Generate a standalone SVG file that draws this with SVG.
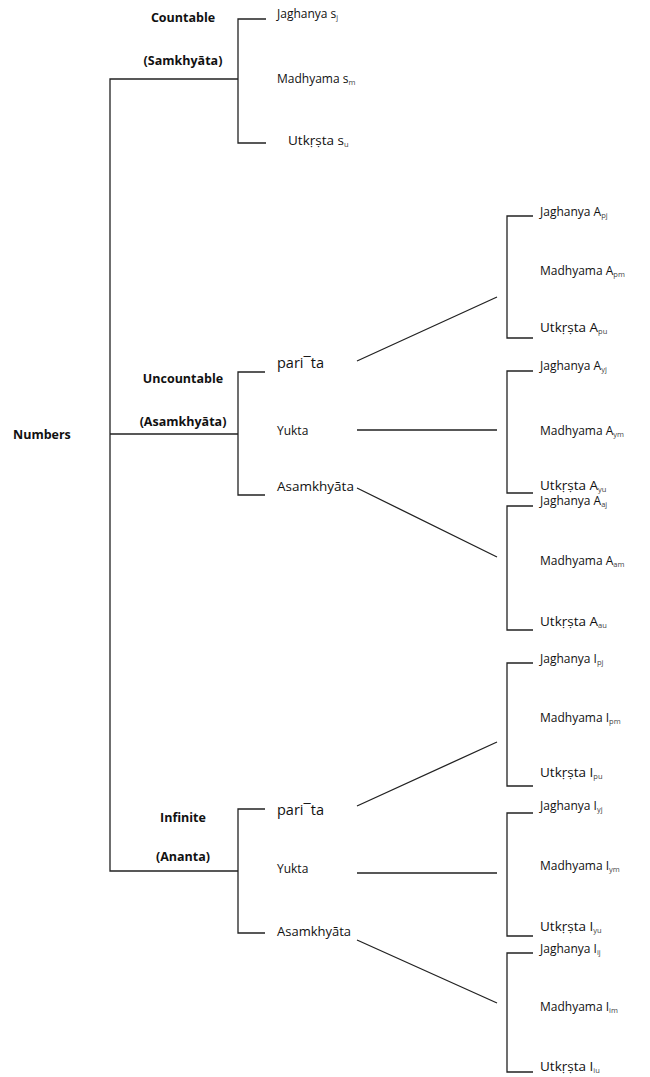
<svg xmlns="http://www.w3.org/2000/svg" width="650" height="1077" viewBox="0 0 650 1077">
<style>
text{font-family:"Open Sans","Liberation Sans",sans-serif;fill:#111;}
.cat{font-size:12.5px;font-weight:bold;text-anchor:middle;}
.mid{font-size:14.5px;}
.leaf{font-size:12px;}
.ut{font-size:13.5px;}
.sub{font-size:7.5px;fill:#444;}
.ln{stroke:#222;stroke-width:1.3;fill:none;}
</style>
<rect width="650" height="1077" fill="#fff"/>
<g id="connectors" class="ln">
<path d="M238,79 H110 V871 H238 M110,434 H238"/>
<path d="M266,19 H238 V143 H266"/>
<path d="M265,372 H238 V495 H265"/>
<path d="M265,809 H238 V933 H265"/>
<path d="M357,361 L497,297 M357,430 H497 M357,488 L497,557"/>
<path d="M357,806 L497,742 M357,873 H497 M357,940 L497,1003"/>
<path d="M533,216 H507 V338 H533"/>
<path d="M533,371 H507 V493 H533"/>
<path d="M533,506 H507 V630 H533"/>
<path d="M533,663 H507 V786 H533"/>
<path d="M533,813 H507 V936 H533"/>
<path d="M533,953 H507 V1072 H533"/>
</g>
<g id="numbers"><text x="13" y="439" class="cat" style="text-anchor:start">Numbers</text></g>
<g id="countable">
<text x="183" y="22" class="cat">Countable</text>
<text x="183" y="65" class="cat">(Samkhyāta)</text>
</g>
<g id="countable-leaves">
<text x="277" y="18" class="leaf">Jaghanya s<tspan class="sub" dy="2">j</tspan></text>
<text x="277" y="83" class="leaf">Madhyama s<tspan class="sub" dy="2">m</tspan></text>
<text x="288" y="145" class="ut">Utkṛṣta s<tspan class="sub" dy="2">u</tspan></text>
</g>
<g id="uncountable">
<text x="183" y="383" class="cat">Uncountable</text>
<text x="183" y="426" class="cat">(Asamkhyāta)</text>
</g>
<g id="uncountable-kids">
<text x="277" y="368" class="mid">pari¯ta</text>
<text x="277" y="435" class="leaf">Yukta</text>
<text x="277" y="491" style="font-size:13.5px">Asamkhyāta</text>
</g>
<g id="A-p">
<text x="540" y="216" class="leaf">Jaghanya A<tspan class="sub" dy="2">pj</tspan></text>
<text x="540" y="275" class="leaf">Madhyama A<tspan class="sub" dy="2">pm</tspan></text>
<text x="540" y="332" class="ut">Utkṛṣta A<tspan class="sub" dy="2">pu</tspan></text>
</g>
<g id="A-y">
<text x="540" y="370" class="leaf">Jaghanya A<tspan class="sub" dy="2">yj</tspan></text>
<text x="540" y="435" class="leaf">Madhyama A<tspan class="sub" dy="2">ym</tspan></text>
<text x="540" y="490" class="ut">Utkṛṣta A<tspan class="sub" dy="2">yu</tspan></text>
</g>
<g id="A-a">
<text x="540" y="505" class="leaf">Jaghanya  A<tspan class="sub" dy="2">aj</tspan></text>
<text x="540" y="565" class="leaf">Madhyama A<tspan class="sub" dy="2">am</tspan></text>
<text x="540" y="626" class="ut">Utkṛṣta A<tspan class="sub" dy="2">au</tspan></text>
</g>
<g id="infinite">
<text x="183" y="822" class="cat">Infinite</text>
<text x="183" y="861" class="cat">(Ananta)</text>
</g>
<g id="infinite-kids">
<text x="277" y="815" class="mid">pari¯ta</text>
<text x="277" y="873" class="leaf">Yukta</text>
<text x="277" y="936" style="font-size:13px">Asamkhyāta</text>
</g>
<g id="I-p">
<text x="540" y="663" class="leaf">Jaghanya I<tspan class="sub" dy="2">pj</tspan></text>
<text x="540" y="722" class="leaf">Madhyama I<tspan class="sub" dy="2">pm</tspan></text>
<text x="540" y="777" class="ut">Utkṛṣta I<tspan class="sub" dy="2">pu</tspan></text>
</g>
<g id="I-y">
<text x="540" y="810" class="leaf">Jaghanya I<tspan class="sub" dy="2">yj</tspan></text>
<text x="540" y="870" class="leaf">Madhyama I<tspan class="sub" dy="2">ym</tspan></text>
<text x="540" y="931" class="ut">Utkṛṣta I<tspan class="sub" dy="2">yu</tspan></text>
</g>
<g id="I-i">
<text x="540" y="953" class="leaf">Jaghanya I<tspan class="sub" dy="2">ij</tspan></text>
<text x="540" y="1011" class="leaf">Madhyama I<tspan class="sub" dy="2">im</tspan></text>
<text x="540" y="1071" class="ut">Utkṛṣta I<tspan class="sub" dy="2">iu</tspan></text>
</g>
</svg>
